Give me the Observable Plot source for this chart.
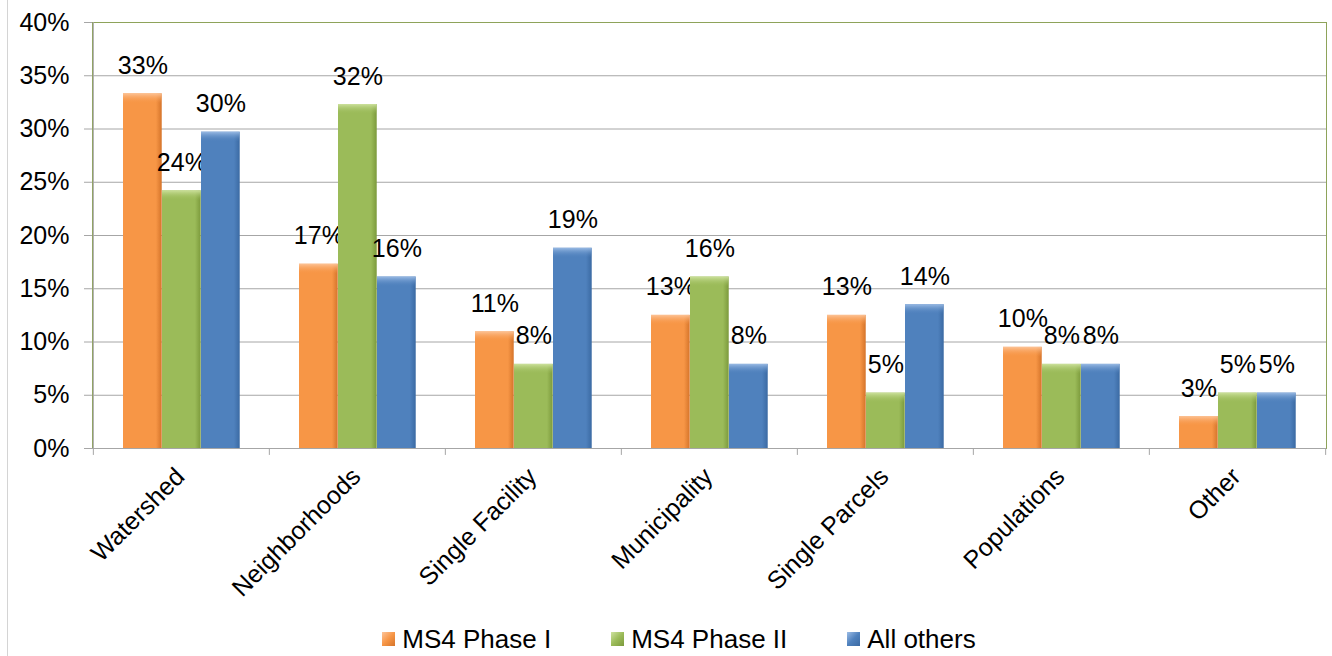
<!DOCTYPE html>
<html><head><meta charset="utf-8">
<script src="https://cdn.jsdelivr.net/npm/d3@7"></script>
<script src="https://cdn.jsdelivr.net/npm/@observablehq/plot@0.6"></script>
<style>
body{margin:0;background:#fff;font-family:"Liberation Sans",Arial,sans-serif;}
#wrap{position:relative;width:1332px;height:656px;overflow:hidden;background:#fff;}
#edge{position:absolute;left:7px;top:0;width:1px;height:656px;background:#d4d4d4;}
#legend{position:absolute;top:624px;left:0;width:1332px;display:flex;justify-content:center;gap:60px;font-size:26px;color:#000;padding-left:26px;box-sizing:border-box;line-height:30px;}
.item{display:flex;align-items:center;gap:7px;}
.sw{width:13px;height:14px;}
</style></head>
<body><div id="wrap"><div id="chart"></div><div id="legend"></div><div id="edge"></div></div>
<script>
const categories = ["Watershed","Neighborhoods","Single Facility","Municipality","Single Parcels","Populations","Other"];
const seriesNames = ["MS4 Phase I","MS4 Phase II","All others"];
const phaseI    = [33.3, 17.3, 10.95, 12.5, 12.5, 9.5, 3.0];
const phaseII   = [24.2, 32.3, 7.9, 16.1, 5.2, 7.9, 5.2];
const allOthers = [29.7, 16.1, 18.8, 7.9, 13.5, 7.9, 5.2];
const labelsI    = ["33%","17%","11%","13%","13%","10%","3%"];
const labelsII   = ["24%","32%","8%","16%","5%","8%","5%"];
const labelsAll  = ["30%","16%","19%","8%","14%","8%","5%"];
const yTicks = [0,5,10,15,20,25,30,35,40];
const colors = ["#F79646","#9BBB59","#4F81BD"];
const lightColors = ["#FDC59A","#CFE3A0","#9DBDE6"];
const darkColors = ["#D5742A","#7C9A3C","#3B6AA3"];

const seriesValues = [phaseI, phaseII, allOthers];
const seriesLabels = [labelsI, labelsII, labelsAll];

const W = 1332, H = 615, ML = 92, MR = 6, MT = 22, MB = 167;
const band = (W - ML - MR) / categories.length, half = band / 2, barW = 39, lead = 30;
const FS = 25;

const rows = [];
seriesNames.forEach((s, i) => categories.forEach((c, j) => rows.push({category: c, series: s, si: i, value: seriesValues[i][j], label: seriesLabels[i][j]})));

const gridGray = "#a6a6a6";
const marks = [
  Plot.gridY(yTicks, {stroke: gridGray, strokeOpacity: 1}),
  Plot.frame({stroke: "#8ea35a"}),
  Plot.ruleX([categories[0]], {dx: -half, y1: 0, y2: 40, stroke: gridGray}),
  Plot.ruleY([0], {stroke: gridGray}),
  Plot.ruleX(categories, {dx: -half, y1: 0, y2: -0.65, stroke: gridGray}),
  Plot.ruleX([categories[categories.length - 1]], {dx: half, y1: 0, y2: -0.65, stroke: gridGray}),
  Plot.axisY({ticks: yTicks, tickFormat: d => d + "%", tickSize: 8, tickPadding: 15, fontSize: FS, stroke: gridGray, fill: "#000"}),
  Plot.axisX({tickRotate: -45, tickSize: 0, tickPadding: 24, fontSize: FS, dx: -1, fill: "#000", label: null})
];
seriesNames.forEach((s, i) => {
  const d = rows.filter(r => r.si === i);
  const inL = lead + barW * i, inR = band - lead - barW * (i + 1);
  marks.push(Plot.barY(d, {x: "category", y: "value", fill: `url(#grad${i})`, insetLeft: inL, insetRight: inR}));
  marks.push(Plot.barY(d, {x: "category", y1: "value", y2: "value", insetBottom: -10, fill: `url(#cap${i})`, insetLeft: inL, insetRight: inR}));
  marks.push(Plot.text(d, {x: "category", y: "value", text: "label", dx: inL + barW / 2 - half, dy: -28, fontSize: FS, fill: "#000"}));
});

const chart = Plot.plot({
  width: W, height: H,
  marginLeft: ML, marginRight: MR, marginTop: MT, marginBottom: MB,
  style: {fontFamily: "'Liberation Sans', Arial, sans-serif", background: "transparent", overflow: "visible"},
  x: {domain: categories, padding: 0, label: null},
  y: {domain: [0, 40], label: null},
  marks
});

const svg = d3.select(chart);
const defs = svg.insert("defs", ":first-child");
colors.forEach((c, i) => {
  const g = defs.append("linearGradient").attr("id", `grad${i}`).attr("x1", "0").attr("x2", "1").attr("y1", "0").attr("y2", "0");
  g.append("stop").attr("offset", "0").attr("stop-color", c);
  g.append("stop").attr("offset", "0.12").attr("stop-color", c);
  g.append("stop").attr("offset", "0.85").attr("stop-color", c);
  g.append("stop").attr("offset", "1").attr("stop-color", darkColors[i]);
  const k = defs.append("linearGradient").attr("id", `cap${i}`).attr("x1", "0").attr("x2", "0").attr("y1", "0").attr("y2", "1");
  k.append("stop").attr("offset", "0").attr("stop-color", lightColors[i]).attr("stop-opacity", 0.95);
  k.append("stop").attr("offset", "1").attr("stop-color", c).attr("stop-opacity", 0);
});
document.getElementById("chart").appendChild(chart);

const legend = d3.select("#legend");
seriesNames.forEach((s, i) => {
  const it = legend.append("div").attr("class", "item");
  it.append("div").attr("class", "sw").style("background", `linear-gradient(135deg, ${lightColors[i]}, ${colors[i]} 50%, ${darkColors[i]})`);
  it.append("span").text(s);
});
</script>
</body></html>
